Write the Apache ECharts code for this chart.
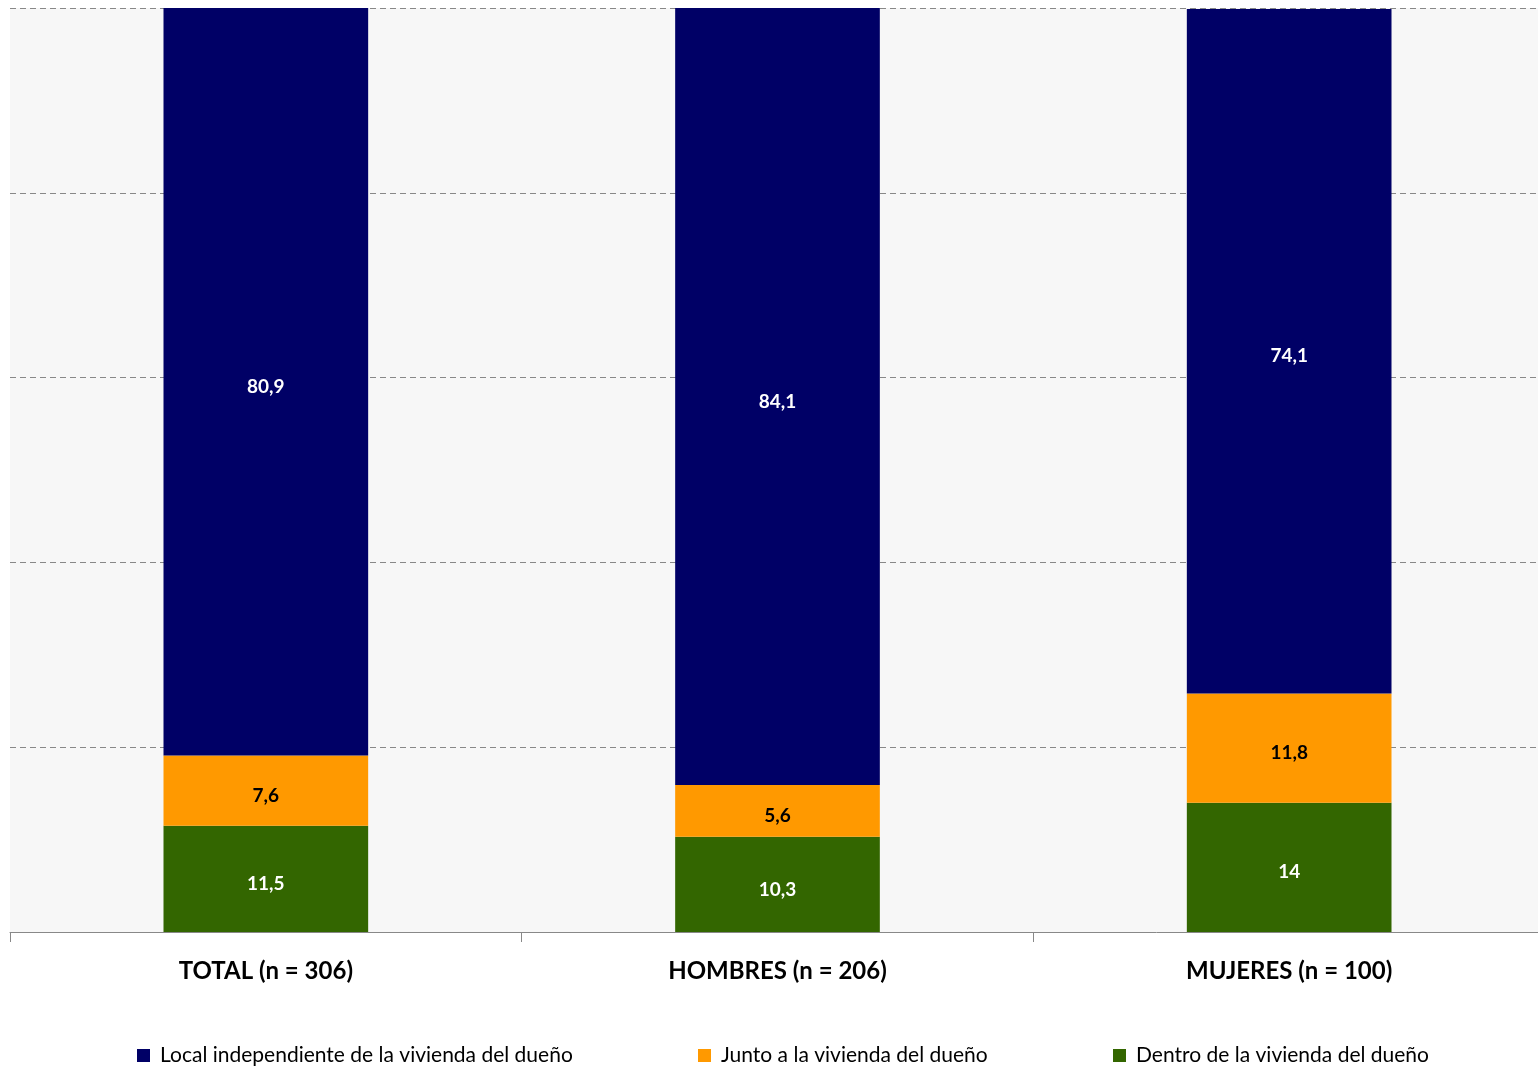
<!DOCTYPE html>
<html><head><meta charset="utf-8">
<script src="https://cdn.jsdelivr.net/npm/echarts@6/dist/echarts.min.js"></script>
<style>html,body{margin:0;padding:0;background:#fff}#c{width:1538px;height:1067px}</style>
</head><body><div id="c"></div>
<script>
const categories = ['TOTAL (n = 306)', 'HOMBRES (n = 206)', 'MUJERES (n = 100)'];
const seriesNames = ['Dentro de la vivienda del dueño', 'Junto a la vivienda del dueño', 'Local independiente de la vivienda del dueño'];
const dentro = [11.5, 10.3, 14];
const junto = [7.6, 5.6, 11.8];
const local = [80.9, 84.1, 74.1];
const colors = ['#336600', '#FF9900', '#000066'];
const labelColors = ['#ffffff', '#000000', '#ffffff'];
const values = [dentro, junto, local];
const FONT = 'Lato';

const chart = echarts.init(document.getElementById('c'), null, {renderer: 'canvas'});
const series = values.map((v, i) => ({
  name: seriesNames[i], type: 'bar', stack: 'a', data: v, barWidth: '40%',
  itemStyle: {color: colors[i]},
  label: {show: true, position: 'inside', offset: [0, 5], color: labelColors[i], fontFamily: FONT, fontWeight: 'bold', fontSize: 19,
    formatter: p => String(p.value).replace('.', ',')}
}));
const legendLefts = [137, 698, 1113];
const legendOrder = [2, 1, 0];
chart.setOption({
  animation: false,
  grid: {left: 10, right: -7, top: 8, bottom: 135, outerBoundsMode: 'none', containLabel: false,
    show: true, backgroundColor: '#f7f7f7', borderWidth: 0},
  legend: legendOrder.map((si, k) => ({
    data: [seriesNames[si]], left: legendLefts[k], top: 1045, padding: 0, itemWidth: 13, itemHeight: 13, itemGap: 10,
    icon: 'rect', textStyle: {fontFamily: FONT, fontSize: 21, color: '#000', padding: [0, 0, 0, 5]}, selectedMode: false
  })),
  xAxis: {type: 'category', data: categories,
    axisLine: {lineStyle: {color: '#888', width: 1}},
    axisTick: {show: true, length: 10, lineStyle: {color: '#888'}},
    axisLabel: {fontFamily: FONT, fontWeight: 'bold', fontSize: 24, color: '#000', margin: 27}},
  yAxis: {type: 'value', min: 0, max: 100, interval: 20,
    axisLabel: {show: false}, axisLine: {show: false}, axisTick: {show: false},
    splitLine: {lineStyle: {color: '#888', type: [6, 4], width: 1}}},
  series
});
</script></body></html>
